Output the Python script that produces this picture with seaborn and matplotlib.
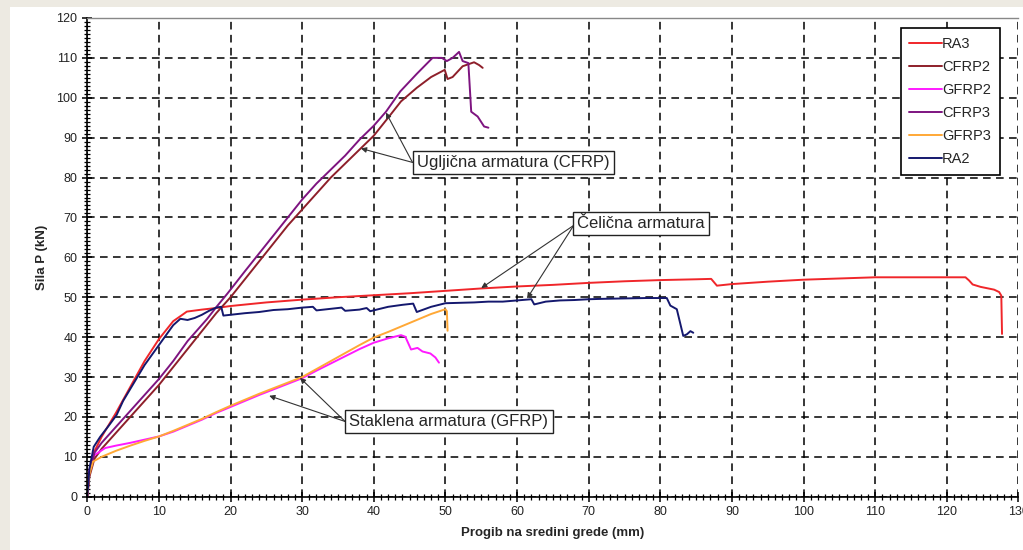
import pandas as pd
import numpy as np
import seaborn as sns
import matplotlib.pyplot as plt
from matplotlib.patches import Rectangle
from matplotlib.ticker import MultipleLocator

# podaci ocitani s dijagrama: progib (mm) i sila P (kN)
ra3_x = [0, 0.3, 0.9, 2, 4, 6, 8, 10, 12, 13.2, 13.9, 16, 18, 20, 25, 30, 35, 40, 45, 50, 55, 60,
         65, 70, 75, 80, 85, 87.1, 87.9, 90, 95, 100, 105, 110, 115, 120, 122.6, 123.1, 123.6,
         124.7, 126.6, 127.3, 127.6, 127.7]
ra3_y = [0, 6, 11, 15, 21, 27.5, 34, 39.5, 44, 45.5, 46.4, 46.9, 47.3, 47.8, 48.7, 49.4, 50, 50.5,
         51, 51.6, 52.2, 52.7, 53.1, 53.6, 54, 54.3, 54.5, 54.6, 52.9, 53.3, 53.9, 54.4, 54.7, 55,
         55, 55, 55, 54.2, 53.2, 52.6, 51.9, 51.3, 50.4, 40.8]

cfrp2_x = [0, 0.3, 1, 2, 3, 4, 5.5, 7, 8.5, 10, 12, 14, 16, 18, 20, 22, 24, 26, 28, 30, 32, 34,
           36, 38, 40, 42, 43.8, 46, 48, 49.9, 50.3, 51, 52.4, 54, 54.7, 55.2]
cfrp2_y = [0, 5, 9.5, 12, 14, 16, 19, 22, 25, 28, 32.5, 37, 41.5, 46, 50, 54.5, 59, 63.5, 68, 72,
           76, 80, 83.5, 87, 90.5, 95, 99.1, 102.5, 105.2, 107, 104.7, 105.2, 107.9, 108.9, 108.2,
           107.5]

gfrp2_x = [0, 0.2, 0.9, 2.5, 4, 6, 8, 10, 12, 14, 16, 18, 20, 22, 24, 26, 28, 30, 32, 34, 36, 38,
           40, 42, 43.8, 44.4, 45.2, 46.1, 46.8, 47.9, 48.6, 49.1]
gfrp2_y = [0, 6, 10.3, 12.2, 12.8, 13.5, 14.3, 15.1, 16.3, 17.8, 19.3, 21, 22.5, 24, 25.5, 26.9,
           28.3, 29.7, 31.6, 33.4, 35.2, 37, 38.6, 39.7, 40.5, 40.1, 36.9, 37.3, 36.4, 35.9, 34.9,
           33.6]

cfrp3_x = [0, 0.3, 1, 2, 3, 4, 5.5, 7, 8.5, 10, 12, 14, 16.7, 18, 19.6, 22, 24, 26, 28, 30, 32,
           34, 36, 38, 40, 41.7, 43.7, 46, 48.2, 49.5, 50.2, 51, 51.9, 52.4, 53.2, 53.6, 54.5,
           55.4, 56]
cfrp3_y = [0, 6, 11, 13.5, 15.5, 17.5, 20.5, 23.5, 26.5, 29.5, 34, 39, 44.5, 47.5, 51, 56.5, 61,
           65.5, 70, 74.5, 78.5, 82, 85.5, 89.5, 93, 96.5, 101.6, 106, 110, 110, 109.2, 110,
           111.5, 109.2, 108.7, 96.5, 95.3, 92.8, 92.5]

gfrp3_x = [0, 0.2, 0.8, 2, 4, 6, 8, 10, 12, 14, 16, 18, 20, 22, 24, 26, 28, 30, 32, 34, 36, 38,
           40, 42, 44, 46, 48, 50, 50.2, 50.3]
gfrp3_y = [0, 5, 8.8, 10, 11.5, 12.8, 14, 15.1, 16.5, 18, 19.5, 21.2, 22.8, 24.3, 25.8, 27.2,
           28.6, 30, 32, 34, 36, 38, 39.9, 41.3, 42.8, 44.3, 45.8, 47, 46.5, 41.6]

ra2_x = [0, 0.3, 0.9, 1.8, 3, 4.1, 5, 6, 7, 8, 9, 10, 11, 12, 13, 14, 15, 16, 17, 18, 18.7, 19,
         20, 22, 24, 26, 28, 30, 31.5, 32, 34, 35.5, 36, 38, 39, 39.5, 42, 44, 45.5, 46, 48, 50,
         52, 54, 56, 58, 60, 62, 62.4, 64, 66, 68, 70, 72, 75, 78, 80, 80.9, 81.4, 82.3, 83.2,
         83.7, 84.2, 84.6]
ra2_y = [0, 7, 12.5, 15, 17.8, 20.5, 24, 27, 30, 33, 35.5, 38, 40.5, 43, 44.6, 44.3, 44.8, 45.6,
         46.6, 47.4, 47.6, 45.4, 45.6, 46.0, 46.3, 46.8, 47.0, 47.4, 47.6, 46.7, 47.1, 47.4, 46.6,
         46.9, 47.3, 46.5, 47.6, 48.1, 48.4, 46.3, 47.6, 48.5, 48.6, 48.7, 48.9, 48.9, 49.2, 49.5,
         48.2, 48.9, 49.2, 49.3, 49.5, 49.6, 49.7, 49.8, 49.8, 49.8, 47.9, 47.0, 40.3, 40.7, 41.5,
         41.1]

uzorci = ['RA3', 'CFRP2', 'GFRP2', 'CFRP3', 'GFRP3', 'RA2']
boje = {'RA3': '#F0262A', 'CFRP2': '#8E1F2A', 'GFRP2': '#FF1AFF',
        'CFRP3': '#7E1480', 'GFRP3': '#FFA836', 'RA2': '#14186E'}

serije = {'RA3': (ra3_x, ra3_y), 'CFRP2': (cfrp2_x, cfrp2_y), 'GFRP2': (gfrp2_x, gfrp2_y),
          'CFRP3': (cfrp3_x, cfrp3_y), 'GFRP3': (gfrp3_x, gfrp3_y), 'RA2': (ra2_x, ra2_y)}

df = pd.concat([pd.DataFrame({'Progib': x, 'Sila': y, 'Uzorak': k}) for k, (x, y) in serije.items()],
               ignore_index=True)

sns.set_theme(style='white')
plt.rcParams['font.family'] = ['Liberation Sans', 'DejaVu Sans']

fig = plt.figure(figsize=(10.23, 5.5), dpi=100)
fig.patch.set_facecolor('#EDEAE2')
# bijela podloga slike (bez-okvir lijevo i gore)
fig.add_artist(Rectangle((10 / 1023, 0), 1, 543 / 550, transform=fig.transFigure,
                         facecolor='white', edgecolor='none', zorder=-1))
ax = fig.add_axes([0.0853, 0.0969, 0.9103, 0.8704])
ax.set_facecolor('white')

sns.lineplot(data=df, x='Progib', y='Sila', hue='Uzorak', hue_order=uzorci, palette=boje,
             sort=False, estimator=None, linewidth=1.4, ax=ax)

ax.set_xlim(0, 130)
ax.set_ylim(0, 120)
ax.xaxis.set_major_locator(MultipleLocator(10))
ax.yaxis.set_major_locator(MultipleLocator(10))
ax.xaxis.set_minor_locator(MultipleLocator(1))
ax.yaxis.set_minor_locator(MultipleLocator(1))
ax.grid(True, which='major', color='black', linestyle=(0, (5, 3.5)), linewidth=1.1)
ax.set_axisbelow(True)
ax.tick_params(which='both', bottom=True, left=True, top=False, right=False)
ax.tick_params(which='major', direction='inout', length=7, width=1.1, labelsize=9,
               labelcolor='#222222', colors='black')
ax.tick_params(which='minor', direction='inout', length=5, width=0.9, colors='black')

for s in ['left', 'bottom']:
    ax.spines[s].set_color('black')
    ax.spines[s].set_linewidth(1.2)
ax.spines['top'].set_color('#888888')
ax.spines['top'].set_linewidth(1)
ax.spines['right'].set_visible(False)

ax.set_xlabel('Progib na sredini grede (mm)', fontsize=9.5, fontweight='bold', labelpad=6)
ax.set_ylabel('Sila P (kN)', fontsize=9.5, fontweight='bold', labelpad=6)

# natpisi sa strelicama
strelica = dict(arrowstyle='-|>', color='#333333', lw=0.8, mutation_scale=8, shrinkA=0, shrinkB=0)
okvir = dict(boxstyle='square,pad=0.25', facecolor='white', edgecolor='#222222', linewidth=1)

ax.text(46.0, 83.8, 'Ugljična armatura (CFRP)', fontsize=12, ha='left', va='center', bbox=okvir, zorder=5)
for cilj in [(41.7, 96.3), (38.2, 87.3)]:
    ax.annotate('', xy=cilj, xytext=(45.4, 83.8), arrowprops=strelica, zorder=4)

ax.text(68.4, 68.5, 'Čelična armatura', fontsize=12, ha='left', va='center', bbox=okvir, zorder=5)
for cilj in [(55.0, 52.3), (61.4, 49.7)]:
    ax.annotate('', xy=cilj, xytext=(67.9, 68.0), arrowprops=strelica, zorder=4)

ax.text(36.6, 18.85, 'Staklena armatura (GFRP)', fontsize=12, ha='left', va='center', bbox=okvir, zorder=5)
for cilj in [(29.7, 29.8), (25.4, 25.3)]:
    ax.annotate('', xy=cilj, xytext=(36.0, 18.85), arrowprops=strelica, zorder=4)

handles, labels = ax.get_legend_handles_labels()
leg = ax.legend(handles, labels, loc='upper right', bbox_to_anchor=(0.98, 0.979), borderaxespad=0,
                frameon=True, fancybox=False, edgecolor='black', framealpha=1, fontsize=10.5,
                handlelength=2.2, handletextpad=0.05, labelspacing=0.62, borderpad=0.6)
leg.get_frame().set_linewidth(1.2)

plt.savefig('out.png', dpi=100, facecolor=fig.get_facecolor())
